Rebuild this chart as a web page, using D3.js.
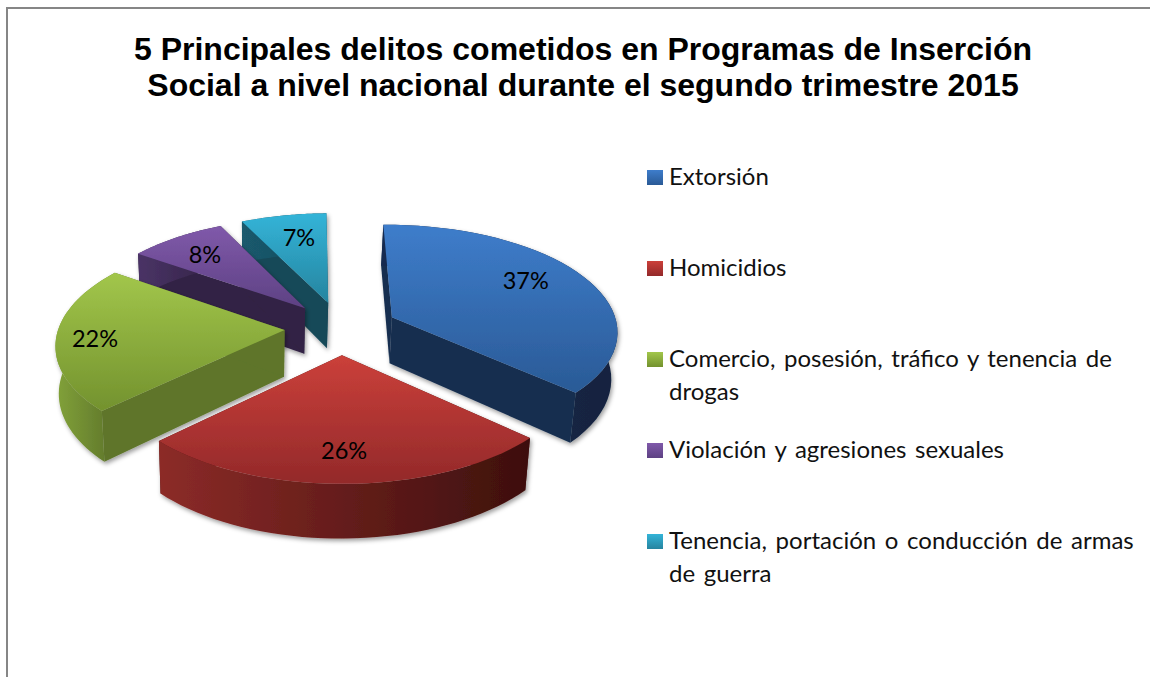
<!DOCTYPE html>
<html lang="es"><head><meta charset="utf-8">
<script src="https://cdn.jsdelivr.net/npm/d3@7/dist/d3.min.js"></script>
<style>html,body{margin:0;padding:0;background:#fff;overflow:hidden}svg{display:block}</style>
</head><body><svg id="c" width="1150" height="677"></svg>
<script>
const titleLines = ["5 Principales delitos cometidos en Programas de Inserción","Social a nivel nacional durante el segundo trimestre 2015"];
const categories = ["Extorsión","Homicidios","Comercio, posesión, tráfico y tenencia de drogas","Violación y agresiones sexuales","Tenencia, portación o conducción de armas de guerra"];
const legendLines = [["Extorsión"],["Homicidios"],["Comercio, posesión, tráfico y tenencia de","drogas"],["Violación y agresiones sexuales"],["Tenencia, portación o conducción de armas","de guerra"]];
const values = [37,26,22,8,7];
const topColors = [["#3e7dcb","#2a5a96"],["#cb403a","#93292a"],["#a2c64b","#73922e"],["#8059aa","#5d4183"],["#33b4d8","#26849f"]];
const wallColors = ["#172f50","#4a1210","#5e752a","#322344","#164858"];
const rimColors = [["#152c50","#12233f"],["#8c2b28","#3d0f0d"],["#82a23a","#5c7329"],["#4a3366","#322344"],["#1a5a6e","#164858"]];
const labelRadius = [0.737,0.768,0.83,0.751,0.718];
const labelTurn = [0.455,0.503,0.489,0.476,0.56];

const W=1150,H=677, cx=341, cy=328, explode=0.25, persp=0.12, depth=46.5, baseShrink=0.983, baseShift=-1.5, turn=-0.9;
const sx=d3.scaleLinear().domain([-1,1]).range([-226,226]);
const sy=d3.scaleLinear().domain([-1,1]).range([-106,106]);
const svg=d3.select("#c");
const defs=svg.append("defs");
const f=defs.append("filter").attr("id","sh").attr("x","-10%").attr("y","-10%").attr("width","120%").attr("height","125%");
f.append("feDropShadow").attr("dx",1.5).attr("dy",2.5).attr("stdDeviation",2.2).attr("flood-color","#000").attr("flood-opacity",0.38);

topColors.forEach((c,i)=>{
  const g=defs.append("linearGradient").attr("id","top"+i).attr("x1",0).attr("x2",0).attr("y1",0).attr("y2",1);
  g.append("stop").attr("offset",0).attr("stop-color",c[0]);
  g.append("stop").attr("offset",1).attr("stop-color",c[1]);
  const r=defs.append("linearGradient").attr("id","rim"+i).attr("x1",0).attr("x2",1).attr("y1",0).attr("y2",0);
  r.append("stop").attr("offset",0).attr("stop-color",rimColors[i][0]);
  r.append("stop").attr("offset",1).attr("stop-color",rimColors[i][1]);
});

svg.append("path").attr("d",`M${W},8H7V${H}`).attr("fill","none").attr("stroke","#868686").attr("stroke-width",2);

svg.selectAll("text.title").data(titleLines).join("text").attr("class","title")
  .attr("x",583).attr("y",(d,i)=>60+i*36).attr("text-anchor","middle")
  .attr("font-family","'Liberation Sans',Arial,sans-serif").attr("font-weight",700).attr("font-size",32).attr("fill","#000").text(d=>d);

const pie=d3.pie().sort(null).startAngle(turn*Math.PI/180).endAngle((360+turn)*Math.PI/180);
const arcs=pie(values);

function proj(u,v,z){
  const s=1/(1-persp*v);
  return [cx+sx(u)*s*(z?baseShrink:1)+(z?baseShift:0), cy+sy(v)*s+(z?depth*s:0)];
}
const line=d3.line();
function slicePts(a){
  const mid=(a.startAngle+a.endAngle)/2;
  const ox=explode*Math.sin(mid), oy=-explode*Math.cos(mid);
  const n=40;
  const rim=d3.range(n+1).map(i=>{const t=a.startAngle+(a.endAngle-a.startAngle)*i/n;return [ox+Math.sin(t),oy-Math.cos(t)];});
  return {ox,oy,rim};
}
const order=[4,3,2,0,1];
const layer=svg.append("g");
order.forEach(i=>{
  const a=arcs[i], p=slicePts(a);
  const g=layer.append("g").attr("filter","url(#sh)");
  const topPts=p.rim.map(q=>proj(q[0],q[1],false));
  const botPts=p.rim.map(q=>proj(q[0],q[1],true));
  const apexT=proj(p.ox,p.oy,false), apexB=proj(p.ox,p.oy,true);
  g.append("path").attr("d",line([apexT,topPts[0],botPts[0],apexB])+"Z").attr("fill",wallColors[i]);
  g.append("path").attr("d",line([apexT,topPts[topPts.length-1],botPts[botPts.length-1],apexB])+"Z").attr("fill",wallColors[i]);
  g.append("path").attr("d",line(topPts.concat(botPts.slice().reverse()))+"Z").attr("fill",`url(#rim${i})`);
  g.append("path").attr("d",line([apexT].concat(topPts))+"Z").attr("fill",`url(#top${i})`);
});

arcs.forEach((a,i)=>{
  const p=slicePts(a);
  const t=a.startAngle+(a.endAngle-a.startAngle)*labelTurn[i], r=labelRadius[i];
  const q=proj(p.ox+r*Math.sin(t),p.oy-r*Math.cos(t),false);
  svg.append("text").attr("x",q[0]).attr("y",q[1]).attr("dy","0.35em").attr("text-anchor","middle")
    .attr("font-family","Lato,'Open Sans',sans-serif").attr("font-size",23.5).attr("fill","#000").text(values[i]+"%");
});

const rowY=d3.scalePoint().domain(d3.range(categories.length)).range([177,541]);
const leg=svg.selectAll("g.leg").data(categories).join("g").attr("class","leg").attr("transform",(d,i)=>`translate(647,${rowY(i)})`);
leg.append("rect").attr("x",0).attr("y",-7).attr("width",16).attr("height",15).attr("fill",(d,i)=>`url(#top${i})`);
leg.each(function(d,i){
  const t=d3.select(this).append("text").attr("font-family","Lato,'Open Sans',sans-serif").attr("font-size",24).attr("word-spacing",2.5).attr("fill","#111");
  legendLines[i].forEach((l,j)=>t.append("tspan").attr("x",22).attr("y",8+j*33).text(l));
});
</script></body></html>
